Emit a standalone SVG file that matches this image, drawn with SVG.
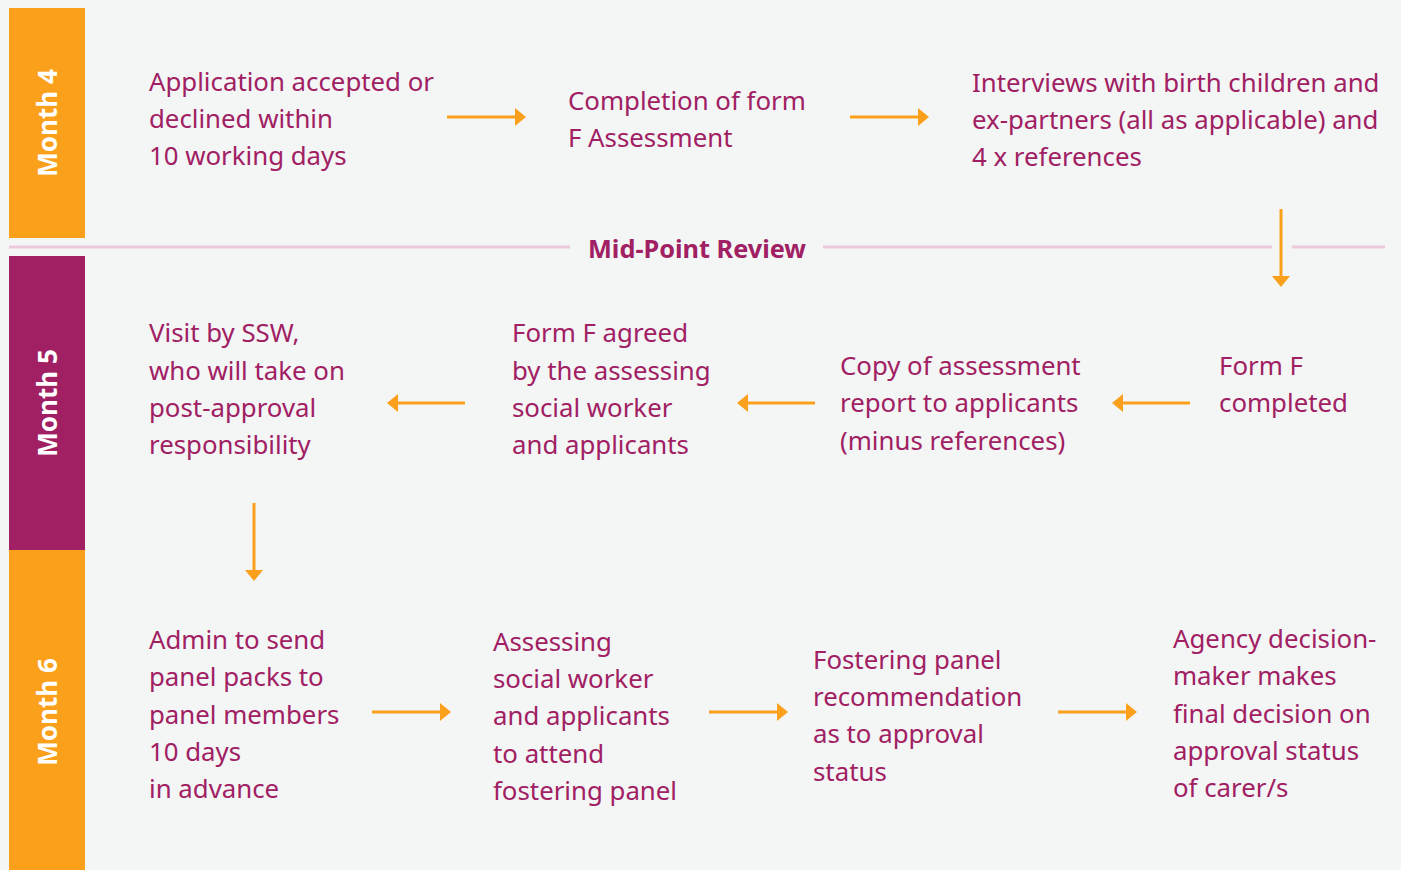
<svg xmlns="http://www.w3.org/2000/svg" width="1401" height="870" viewBox="0 0 1401 870">
<defs>
<style>
.t{font-family:"Noto Sans","Open Sans",sans-serif;font-size:25.8px;fill:#A02063}
.m{font-family:"Noto Sans","Open Sans",sans-serif;font-size:26px;font-weight:bold;fill:#FFFFFF}
.mid{font-family:"Noto Sans","Open Sans",sans-serif;font-size:25.3px;font-weight:bold;fill:#A02063}
.c{stroke:#FBA01B;stroke-width:3;fill:none}
.sep{stroke:#EBCADB;stroke-width:3}
</style>
<marker id="ah" markerWidth="12" markerHeight="18" viewBox="0 0 11 18" refX="0" refY="9" orient="auto" markerUnits="userSpaceOnUse">
<path d="M0,0 L11,9 L0,18 Z" fill="#FBA01B"/>
</marker>
</defs>
<rect width="1401" height="870" fill="#F4F5F5"/>
<g id="bars">
<rect x="9" y="8" width="76" height="230" fill="#FBA01B"/>
<rect x="9" y="256" width="76" height="294" fill="#A02063"/>
<rect x="9" y="550" width="76" height="320" fill="#FBA01B"/>
<text class="m" transform="translate(57,123) rotate(-90)" text-anchor="middle">Month 4</text>
<text class="m" transform="translate(57,403) rotate(-90)" text-anchor="middle">Month 5</text>
<text class="m" transform="translate(57,712) rotate(-90)" text-anchor="middle">Month 6</text>
</g>
<g id="midpoint">
<line class="sep" x1="9" y1="247" x2="570" y2="247"/>
<line class="sep" x1="823" y1="247" x2="1272" y2="247"/>
<line class="sep" x1="1292" y1="247" x2="1385" y2="247"/>
<text class="mid" x="697" y="258" text-anchor="middle">Mid-Point Review</text>
</g>
<g id="n1"><text class="t"><tspan x="149" y="91">Application accepted or</tspan><tspan x="149" y="128">declined within</tspan><tspan x="149" y="165">10 working days</tspan></text></g>
<g id="n2"><text class="t"><tspan x="568" y="110">Completion of form</tspan><tspan x="568" y="147">F Assessment</tspan></text></g>
<g id="n3"><text class="t"><tspan x="972" y="92">Interviews with birth children and</tspan><tspan x="972" y="129">ex-partners (all as applicable) and</tspan><tspan x="972" y="166">4 x references</tspan></text></g>
<g id="n4"><text class="t"><tspan x="1219" y="375">Form F</tspan><tspan x="1219" y="412">completed</tspan></text></g>
<g id="n5"><text class="t"><tspan x="840" y="375">Copy of assessment</tspan><tspan x="840" y="412">report to applicants</tspan><tspan x="840" y="450">(minus references)</tspan></text></g>
<g id="n6"><text class="t"><tspan x="512" y="342">Form F agreed</tspan><tspan x="512" y="380">by the assessing</tspan><tspan x="512" y="417">social worker</tspan><tspan x="512" y="454">and applicants</tspan></text></g>
<g id="n7"><text class="t"><tspan x="149" y="342">Visit by SSW,</tspan><tspan x="149" y="380">who will take on</tspan><tspan x="149" y="417">post-approval</tspan><tspan x="149" y="454">responsibility</tspan></text></g>
<g id="n8"><text class="t"><tspan x="149" y="649">Admin to send</tspan><tspan x="149" y="686">panel packs to</tspan><tspan x="149" y="724">panel members</tspan><tspan x="149" y="761">10 days</tspan><tspan x="149" y="798">in advance</tspan></text></g>
<g id="n9"><text class="t"><tspan x="493" y="651">Assessing</tspan><tspan x="493" y="688">social worker</tspan><tspan x="493" y="725">and applicants</tspan><tspan x="493" y="763">to attend</tspan><tspan x="493" y="800">fostering panel</tspan></text></g>
<g id="n10"><text class="t"><tspan x="813" y="669">Fostering panel</tspan><tspan x="813" y="706">recommendation</tspan><tspan x="813" y="743">as to approval</tspan><tspan x="813" y="781">status</tspan></text></g>
<g id="n11"><text class="t"><tspan x="1173" y="648">Agency decision-</tspan><tspan x="1173" y="685">maker makes</tspan><tspan x="1173" y="723">final decision on</tspan><tspan x="1173" y="760">approval status</tspan><tspan x="1173" y="797">of carer/s</tspan></text></g>
<g id="connectors">
<line class="c" x1="447" y1="117" x2="515" y2="117" marker-end="url(#ah)"/>
<line class="c" x1="850" y1="117" x2="918" y2="117" marker-end="url(#ah)"/>
<line class="c" x1="1281" y1="209" x2="1281" y2="276" marker-end="url(#ah)"/>
<line class="c" x1="1190" y1="403" x2="1123" y2="403" marker-end="url(#ah)"/>
<line class="c" x1="815" y1="403" x2="748" y2="403" marker-end="url(#ah)"/>
<line class="c" x1="465" y1="403" x2="398" y2="403" marker-end="url(#ah)"/>
<line class="c" x1="254" y1="503" x2="254" y2="570" marker-end="url(#ah)"/>
<line class="c" x1="372" y1="712" x2="440" y2="712" marker-end="url(#ah)"/>
<line class="c" x1="709" y1="712" x2="777" y2="712" marker-end="url(#ah)"/>
<line class="c" x1="1058" y1="712" x2="1126" y2="712" marker-end="url(#ah)"/>
</g>
</svg>
